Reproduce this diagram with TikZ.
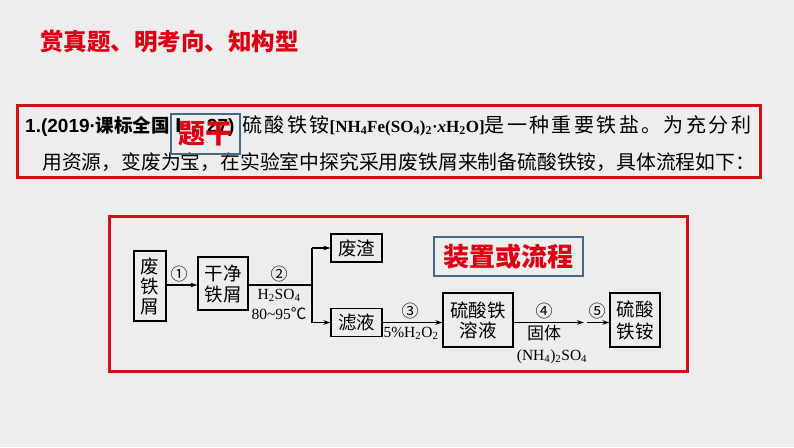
\documentclass[tikz,border=0pt]{standalone}
\usepackage{fontspec}
\setmainfont{Liberation Serif}
\setsansfont{Liberation Sans}
\newfontfamily\cjk{Noto Sans CJK SC}
\usetikzlibrary{arrows.meta}
\definecolor{bg}{RGB}{237,237,237}
\definecolor{hred}{RGB}{222,0,18}
\definecolor{bred}{RGB}{210,16,24}
\definecolor{lblue}{RGB}{70,105,135}
\begin{document}
\begin{tikzpicture}[x=1pt,y=-1pt,
  redbox/.style={draw=bred, line width=3pt},
  flowbox/.style={draw=black, line width=1.1pt, inner sep=0, align=center, font=\cjk\fontsize{18.5}{21}\selectfont},
  arr/.style={-{Stealth[length=7pt,width=4.5pt]}, line width=1.1pt},
  lbl/.style={inner sep=0, font=\fontsize{15.5}{17}\selectfont},
  num/.style={inner sep=0, font=\cjk\fontsize{17}{18}\selectfont},
  tagbox/.style={draw=lblue, line width=1.5pt, inner sep=0, text=hred, font=\cjk\bfseries}
]
\fill[bg] (0,0) rectangle (794,447);
\useasboundingbox (0,0) rectangle (794,447);

% title
\node[anchor=base west, inner sep=0, text=hred, font=\cjk\bfseries\fontsize{23.5}{26}\selectfont] (title) at (40,50) {赏真题、明考向、知构型};

% question box
\draw[redbox] (17,105) rectangle (760,177);
\node[anchor=base west, inner sep=0] (line1) at (25,132) {%
{\sffamily\bfseries\fontsize{19}{22}\selectfont 1.(2019·}%
{\cjk\bfseries\fontsize{18.5}{22}\selectfont 课标全国Ⅰ，}%
{\sffamily\bfseries\fontsize{19}{22}\selectfont 27)}\hspace{8pt}%
{\cjk\fontsize{20}{22}\selectfont\addfontfeature{LetterSpace=12}硫酸铁铵}%
{\bfseries\fontsize{17}{22}\selectfont [NH\textsubscript{4}Fe(SO\textsubscript{4})\textsubscript{2}·\textit{x}H\textsubscript{2}O]}%
{\cjk\fontsize{20}{22}\selectfont\addfontfeature{LetterSpace=12}是一种重要铁盐。为充分利}};
\node[anchor=base west, inner sep=0, font=\cjk\fontsize{19.8}{22}\selectfont] (line2) at (42,169.5) {用资源，变废为宝，在实验室中探究采用废铁屑来制备硫酸铁铵，具体流程如下：};
\node[tagbox, minimum width=69pt, minimum height=40pt, font=\cjk\bfseries\fontsize{27}{30}\selectfont] (tag1) at (205.5,134) {题干};

% flow box
\draw[redbox] (109,216) rectangle (687,371);
\node[tagbox, minimum width=149pt, minimum height=39pt, font=\cjk\bfseries\fontsize{26}{30}\selectfont] (tag2) at (508.5,256.5) {装置或流程};

\node[flowbox, minimum width=32pt, minimum height=70pt, font=\cjk\fontsize{18.5}{20}\selectfont] (waste) at (150,286) {废\\铁\\屑};
\node[flowbox, minimum width=50pt, minimum height=53pt] (clean) at (223,283.5) {干净\\铁屑};
\node[flowbox, minimum width=51pt, minimum height=28pt] (slag) at (356.5,248) {废渣};
\node[flowbox, minimum width=51pt, minimum height=28pt] (filt) at (356.5,322.5) {滤液};
\node[flowbox, minimum width=70pt, minimum height=54pt, font=\cjk\fontsize{18.5}{20}\selectfont] (sulf) at (478,320) {硫酸铁\\溶液};
\node[flowbox, minimum width=50pt, minimum height=54pt, font=\cjk\fontsize{18.5}{22}\selectfont] (prod) at (635,320) {硫酸\\铁铵};

\coordinate (split) at (312,285);
\coordinate (c4) at (584,322.5);
\coordinate (c5) at (586.5,322.5);

\draw[arr] (waste.east |- split) -- (clean.west |- split);
\draw[line width=1.1pt] (clean.east |- split) -- (split);
\draw[line width=1.1pt] (split |- slag.west) -- (split |- filt.west);
\draw[arr] (split |- slag.west) -- (slag.west);
\draw[arr] (split |- filt.west) -- (filt.west);
\draw[arr] (filt.east) -- (filt.east -| sulf.west);
\draw[arr] (sulf.east |- c4) -- (c4);
\draw[arr] (c5) -- (c5 -| prod.west);

\node[num] (n1) at (179,274) {①};
\node[num] (n2) at (279,274) {②};
\node[lbl] (h2so4) at (279,295) {H\textsubscript{2}SO\textsubscript{4}};
\node[lbl] (temp) at (279,314) {80\textasciitilde 95{\cjk ℃}};
\node[num] (n3) at (410,311) {③};
\node[lbl] (h2o2) at (411,333) {5\%H\textsubscript{2}O\textsubscript{2}};
\node[num] (n4) at (544,311) {④};
\node[inner sep=0, font=\cjk\fontsize{17}{18}\selectfont] (solid) at (544,333) {固体};
\node[lbl] (nh4) at (552,357) {(NH\textsubscript{4})\textsubscript{2}SO\textsubscript{4}};
\node[num] (n5) at (597,311) {⑤};
\end{tikzpicture}
\end{document}
